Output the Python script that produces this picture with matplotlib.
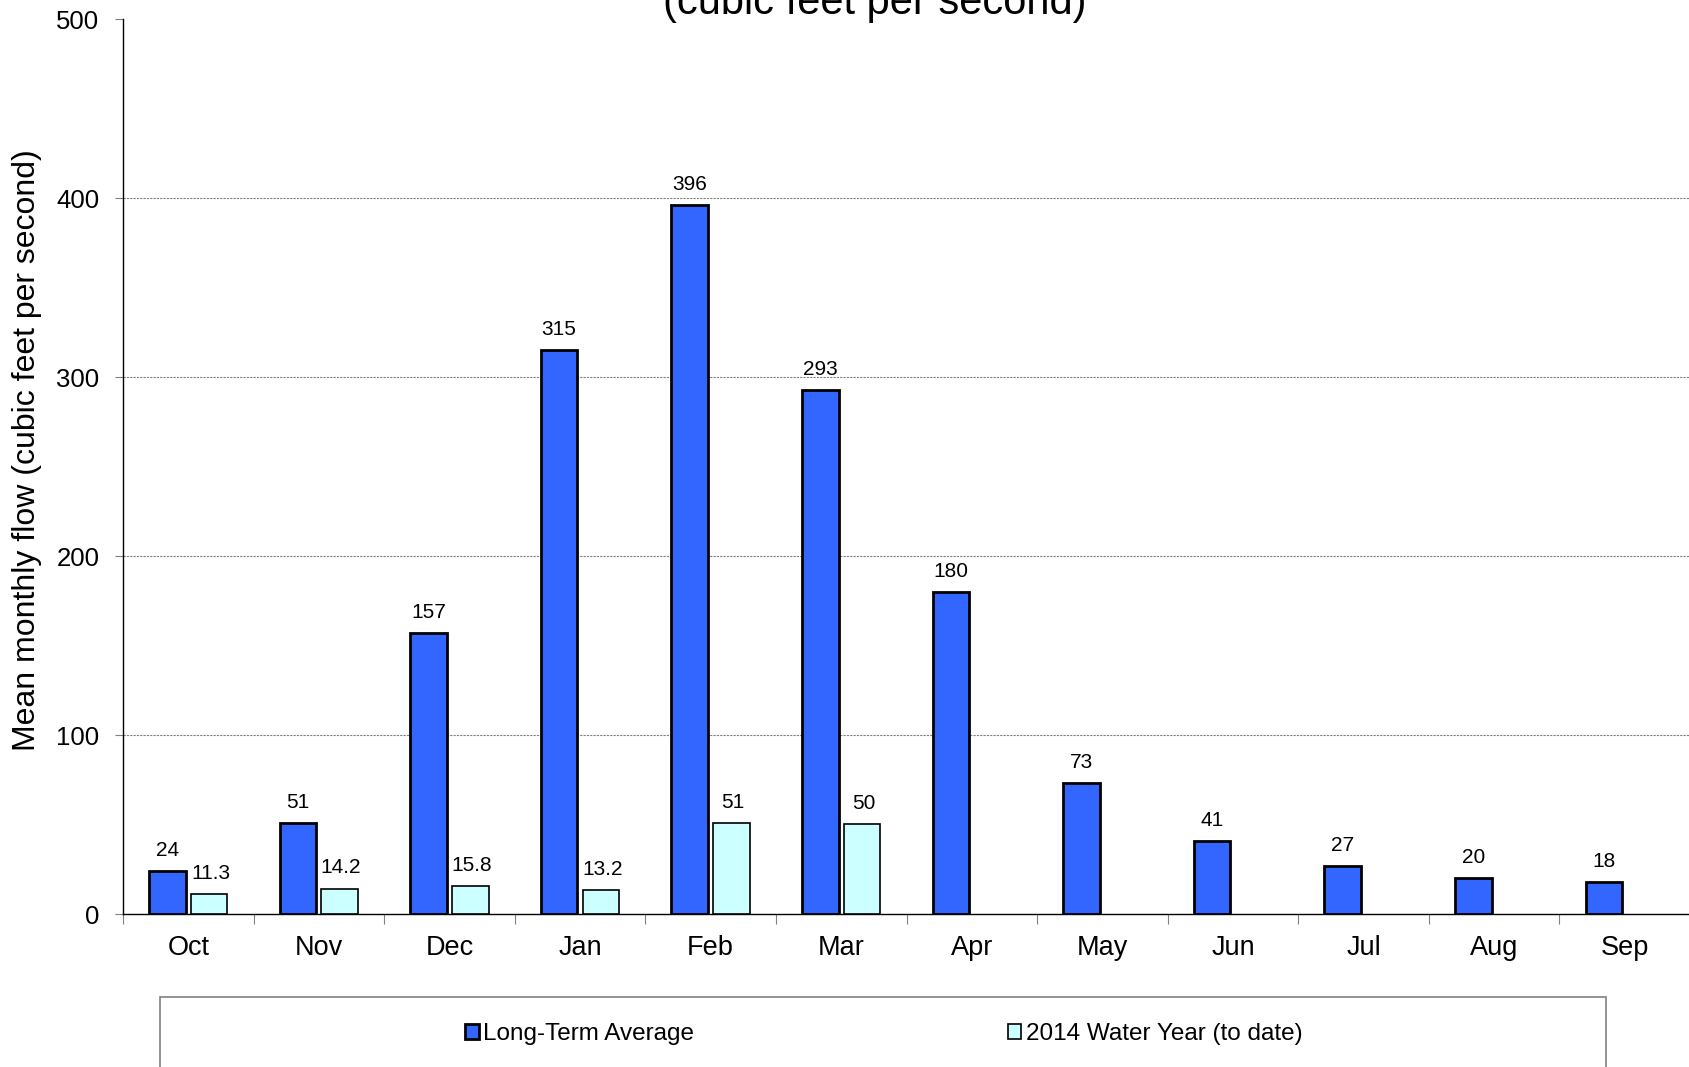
import numpy as np
import matplotlib.pyplot as plt
from matplotlib.patches import Rectangle

plt.rcParams['font.family'] = ['Liberation Sans', 'DejaVu Sans']

# Data
months = ['Oct', 'Nov', 'Dec', 'Jan', 'Feb', 'Mar', 'Apr', 'May', 'Jun', 'Jul', 'Aug', 'Sep']
long_term = [24, 51, 157, 315, 396, 293, 180, 73, 41, 27, 20, 18]
long_term_labels = ['24', '51', '157', '315', '396', '293', '180', '73', '41', '27', '20', '18']
wy2014 = [11.3, 14.2, 15.8, 13.2, 50.6, 50.3]
wy2014_labels = ['11.3', '14.2', '15.8', '13.2', '51', '50']

W, H = 1690, 1067
fig = plt.figure(figsize=(W / 100, H / 100), dpi=100)
ax = fig.add_axes([123 / W, 1 - 914 / H, 1573 / W, (914 - 19.4) / H])

x = np.arange(len(months))
bw = 0.28
off = 0.16
b1 = ax.bar(x - off, long_term, bw, color='#3366FF', edgecolor='black', linewidth=2,
            label='Long-Term Average', zorder=3)
x2 = np.arange(len(wy2014))
b2 = ax.bar(x2 + off, wy2014, bw, color='#CCFFFF', edgecolor='black', linewidth=1.2,
            label='2014 Water Year (to date)', zorder=3)

for xi, v, s in zip(x - off, long_term, long_term_labels):
    ax.annotate(s, (xi, v), xytext=(0, 8), textcoords='offset points',
                ha='center', va='bottom', fontsize=15)
for xi, v, s in zip(x2 + off, wy2014, wy2014_labels):
    ax.annotate(s, (xi + 0.01, v), xytext=(0, 8), textcoords='offset points',
                ha='center', va='bottom', fontsize=15)

ax.set_xlim(-0.5, len(months) - 0.5 + 6 / 131)
ax.set_ylim(0, 500)
ax.set_yticks([0, 100, 200, 300, 400, 500])
ax.set_xticks(x)
ax.set_xticklabels(months)
ax.set_xticks(np.arange(len(months) + 1) - 0.5, minor=True)
ax.tick_params(axis='x', which='major', length=0, labelsize=19.5, pad=15)
ax.tick_params(axis='x', which='minor', length=7, color='gray', width=0.8)
ax.tick_params(axis='y', length=6, color='gray', width=0.8, labelsize=18.5, pad=11)

for yv in [100, 200, 300, 400]:
    ax.axhline(yv, color='gray', linestyle=(0, (2, 1)), linewidth=0.8, zorder=0)

ax.spines['top'].set_visible(False)
ax.spines['right'].set_visible(False)
ax.spines['left'].set_linewidth(1.0)
ax.spines['bottom'].set_linewidth(1.0)

fig.text(27 / W, 1 - 450 / H, 'Mean monthly flow (cubic feet per second)',
         rotation=90, ha='center', va='center', fontsize=23)
# title runs off the top edge, as in the source image
fig.text(875 / W, 1 - 14 / H, '(cubic feet per second)', ha='center', va='baseline',
         fontsize=30)

# legend box
fig.patches.append(Rectangle((160 / W, -0.05), (1606 - 160) / W, 0.05 + (1067 - 997) / H,
                             transform=fig.transFigure, facecolor='white',
                             edgecolor='gray', linewidth=1.2))
fig.legend(handles=[b1, b2], loc='center', bbox_to_anchor=(884 / W, 1 - 1034 / H),
           ncol=2, frameon=False, fontsize=17.5, handlelength=0.55, handleheight=0.55,
           handletextpad=0.2, columnspacing=12.9)

fig.savefig('out.png', dpi=100)
